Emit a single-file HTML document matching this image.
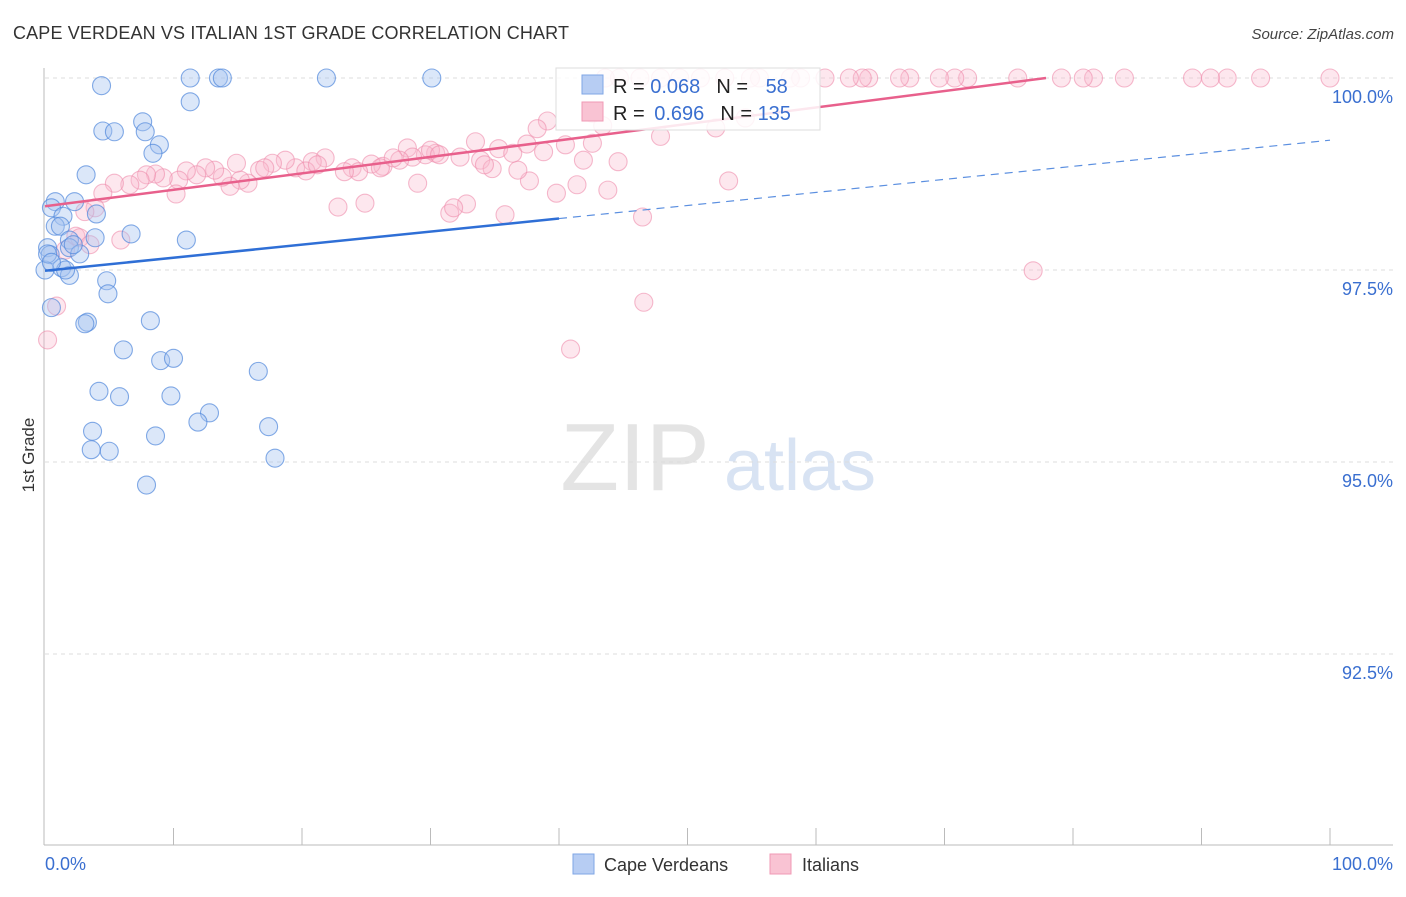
<!DOCTYPE html>
<html><head><meta charset="utf-8"><style>
body{margin:0;background:#fff;font-family:"Liberation Sans",sans-serif;}
svg text{font-family:"Liberation Sans",sans-serif;}
</style></head><body>
<svg id="chart" width="1406" height="892" viewBox="0 0 1406 892" xmlns="http://www.w3.org/2000/svg">
<text x="13" y="39" font-size="18" fill="#333" textLength="556">CAPE VERDEAN VS ITALIAN 1ST GRADE CORRELATION CHART</text>
<text x="1394" y="39" font-size="15" fill="#444" font-style="italic" text-anchor="end">Source: ZipAtlas.com</text>
<text transform="translate(34,455) rotate(-90)" font-size="17" fill="#333" text-anchor="middle">1st Grade</text>
<g>
<text x="635" y="490" font-size="96" fill="#e4e4e4" font-family="Liberation Serif" text-anchor="middle">ZIP</text>
<text x="800" y="490" font-size="72" fill="#d8e3f3" text-anchor="middle">atlas</text>
</g>
<g id="grid"></g>
<g id="axes"></g>
<g id="pts"></g>
<g id="lines"></g>
<g>
<rect x="556" y="68" width="264" height="62" fill="#fff" fill-opacity="0.85" stroke="#ddd"/>
<rect x="582" y="75" width="21" height="19" fill="#b7cdf3" stroke="#7fa6e6"/>
<rect x="582" y="102" width="21" height="19" fill="#f9c3d3" stroke="#f09ab5"/>
<text x="613" y="93" font-size="20" fill="#222">R = <tspan fill="#3a6fd0">0.068</tspan><tspan dx="16">N = </tspan><tspan dx="12" fill="#3a6fd0">58</tspan></text>
<text x="613" y="120" font-size="20" fill="#222">R = <tspan dx="4" fill="#3a6fd0">0.696</tspan><tspan dx="16">N = </tspan><tspan fill="#3a6fd0">135</tspan></text>
</g>
<g>
<rect x="573" y="854" width="21" height="20" fill="#b7cdf3" stroke="#7fa6e6"/>
<text x="604" y="871" font-size="18" fill="#333">Cape Verdeans</text>
<rect x="770" y="854" width="21" height="20" fill="#f9c3d3" stroke="#f09ab5"/>
<text x="802" y="871" font-size="18" fill="#333">Italians</text>
</g>
</svg>
<script>
const blueX=[4.4,11.3,13.5,13.8,21.9,30.1,11.3,4.5,5.4,7.6,7.8,8.9,8.4,3.2,0.8,2.3,0.5,4.0,1.4,0.8,1.2,6.7,11.0,1.9,3.9,0.2,1.9,2.7,0.4,1.3,1.9,0,4.8,4.9,0.5,3.3,3.1,8.2,6.1,9.0,10.0,16.6,4.2,5.8,9.8,12.8,11.9,3.7,8.6,17.4,3.6,5.0,17.9,7.9,2.2,1.6,0.2,0.5];
const blueY=[99.90,100,100,100,100,100,99.69,99.31,99.30,99.43,99.30,99.13,99.02,98.74,98.39,98.39,98.31,98.23,98.20,98.07,98.07,97.97,97.89,97.89,97.92,97.79,97.79,97.71,97.70,97.53,97.43,97.50,97.36,97.19,97.01,96.82,96.80,96.84,96.46,96.32,96.35,96.18,95.92,95.85,95.86,95.64,95.52,95.40,95.34,95.46,95.16,95.14,95.05,94.70,97.83,97.50,97.71,97.60];
const pinkX=[100,94.6,92.0,90.7,89.3,84.0,81.6,80.8,79.1,75.7,71.8,70.8,69.6,67.3,66.5,64.1,63.6,62.6,60.7,58.8,58.0,55.6,54.9,52.9,51.0,49.4,47.9,46.3,44.7,43.6,
76.9,46.6,40.9,46.5,53.2,43.8,41.4,39.8,37.7,35.8,32.8,31.5,31.8,29.0,28.2,22.8,24.9,36.8,33.5,39.1,38.3,42.6,41.9,40.5,38.8,37.5,43.4,44.6,47.9,52.2,54.5,42.6,35.3,32.3,33.9,34.8,30.4,29.6,28.6,27.6,26.3,25.4,23.9,24.4,23.3,21.8,20.8,19.5,18.7,17.7,16.7,15.8,15.2,14.4,13.8,13.2,12.5,11.8,11.0,10.4,10.2,9.2,8.6,7.9,7.4,6.6,5.4,4.5,3.9,3.1,2.4,2.7,1.6,3.5,5.9,0.9,0.2,14.9,17.1,20.3,21.2,26.1,27.1,30.0,30.7,34.2,36.4];
const pinkY=[100,100,100,100,100,100,100,100,100,100,100,100,100,100,100,100,100,100,100,100,100,100,100,100,100,100,100,100,100,100,
97.49,97.08,96.47,98.19,98.66,98.54,98.61,98.50,98.66,98.22,98.36,98.24,98.31,98.63,99.09,98.32,98.37,98.80,99.17,99.44,99.34,99.15,98.93,99.13,99.04,99.14,99.38,98.91,99.24,99.35,99.48,99.54,99.08,98.97,98.93,98.82,99.02,99.00,98.97,98.93,98.85,98.88,98.83,98.78,98.78,98.96,98.91,98.83,98.93,98.89,98.80,98.63,98.67,98.59,98.71,98.80,98.83,98.74,98.79,98.67,98.49,98.70,98.75,98.74,98.67,98.61,98.63,98.50,98.31,98.26,97.94,97.92,97.76,97.83,97.89,97.03,96.59,98.89,98.83,98.79,98.87,98.83,98.96,99.06,99.00,98.87,99.02];
const blueTrend=[[0,97.49],[40,98.17],[100,99.19]];
const pinkTrend=[[0,98.33],[77.9,100]];
const yTicks=[100,97.5,95,92.5];
const yTickLabels=["100.0%","97.5%","95.0%","92.5%"];
const xTickLabels=["0.0%","100.0%"];

const NS="http://www.w3.org/2000/svg";
const X=v=>45+v*12.85;
const Y=v=>78+(100-v)*76.8;
function mk(tag,attrs,parent){const e=document.createElementNS(NS,tag);for(const k in attrs)e.setAttribute(k,attrs[k]);parent.appendChild(e);return e;}
const grid=document.getElementById('grid'),axes=document.getElementById('axes'),pts=document.getElementById('pts'),lines=document.getElementById('lines');
yTicks.forEach((t,i)=>{
 const l=mk('line',{x1:45,x2:1393,y1:Y(t),y2:Y(t),stroke:'#ddd','stroke-dasharray':'4,4'},grid);
 
 
 const tx=mk('text',{x:1393,y:Y(t)+25,'font-size':18,fill:'#3a6fd0','text-anchor':'end'},axes);
 tx.textContent=yTickLabels[i];
 
 
});
const ax=mk('line',{x1:44,x2:44,y1:68,y2:845,stroke:'#bbb'},axes);


const bx=mk('line',{x1:44,x2:1393,y1:845,y2:845,stroke:'#bbb'},axes);


for(let i=1;i<=10;i++){
 const t=mk('line',{x1:X(i*10),x2:X(i*10),y1:828,y2:845,stroke:'#bbb'},axes);
 
 
}
const xl0=mk('text',{x:45,y:870,'font-size':18,fill:'#3a6fd0'},axes);xl0.textContent=xTickLabels[0];


const xl1=mk('text',{x:1393,y:870,'font-size':18,fill:'#3a6fd0','text-anchor':'end'},axes);xl1.textContent=xTickLabels[1];



pinkX.forEach((x,i)=>{
 const c=mk('circle',{cx:X(x),cy:Y(pinkY[i]),r:9,fill:'rgba(248,185,205,0.35)',stroke:'rgba(238,140,172,0.6)','stroke-width':1.1},pts);
 
 
});
blueX.forEach((x,i)=>{
 const c=mk('circle',{cx:X(x),cy:Y(blueY[i]),r:9,fill:'rgba(165,195,240,0.4)',stroke:'rgba(80,135,220,0.7)','stroke-width':1.1},pts);
 
 
});
const b1=mk('line',{x1:X(blueTrend[0][0]),y1:Y(blueTrend[0][1]),x2:X(blueTrend[1][0]),y2:Y(blueTrend[1][1]),stroke:'#2f6fd6','stroke-width':2.5},lines);


const b2=mk('line',{x1:X(blueTrend[1][0]),y1:Y(blueTrend[1][1]),x2:X(blueTrend[2][0]),y2:Y(blueTrend[2][1]),stroke:'#5b8fe0','stroke-width':1.2,'stroke-dasharray':'8,6'},lines);


const p1=mk('line',{x1:X(pinkTrend[0][0]),y1:Y(pinkTrend[0][1]),x2:X(pinkTrend[1][0]),y2:Y(pinkTrend[1][1]),stroke:'#e8608c','stroke-width':2.5},lines);


</script>
</body></html>
